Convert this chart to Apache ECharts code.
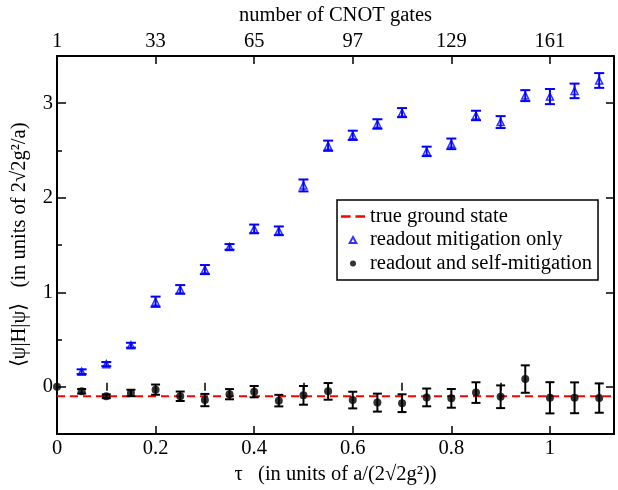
<!DOCTYPE html>
<html>
<head>
<meta charset="utf-8">
<script src="https://cdn.jsdelivr.net/npm/echarts@6/dist/echarts.min.js"></script>
<style>
    html, body { margin: 0; padding: 0; background: #fff; }
    #chart { width: 618px; height: 490px; }
</style>
</head>
<body>
<div id="chart"></div>
<script>
    // readout mitigation only (blue triangles)
    var tauRO = [0.05, 0.1, 0.15, 0.2, 0.25, 0.3, 0.35, 0.4, 0.45, 0.5, 0.55,
        0.6, 0.65, 0.7, 0.75, 0.8, 0.85, 0.9, 0.95, 1.0, 1.05, 1.1]
    var readoutOnly = [0.16, 0.24, 0.44, 0.90, 1.03, 1.24, 1.48, 1.67, 1.65, 2.13, 2.55,
        2.66, 2.78, 2.90, 2.49, 2.57, 2.87, 2.80, 3.08, 3.07, 3.13, 3.24]
    var readoutOnlyErr = [0.025, 0.022, 0.026, 0.054, 0.046, 0.048, 0.03, 0.046, 0.046, 0.063, 0.054,
        0.049, 0.05, 0.048, 0.05, 0.056, 0.05, 0.063, 0.058, 0.08, 0.077, 0.078]

    // readout and self-mitigation (black dots)
    var tauSM = [0, 0.05, 0.1, 0.15, 0.2, 0.25, 0.3, 0.35, 0.4, 0.45, 0.5, 0.55,
        0.6, 0.65, 0.7, 0.75, 0.8, 0.85, 0.9, 0.95, 1.0, 1.05, 1.1]
    var selfMit = [0, -0.047, -0.10, -0.065, -0.03, -0.10, -0.14, -0.078, -0.051, -0.146, -0.09, -0.048,
        -0.14, -0.167, -0.173, -0.112, -0.122, -0.061, -0.105, 0.082, -0.116, -0.116, -0.119]
    var selfMitErr = [0, 0.024, 0.02, 0.034, 0.054, 0.05, 0.065, 0.054, 0.06, 0.061, 0.099, 0.088,
        0.088, 0.095, 0.094, 0.094, 0.099, 0.109, 0.12, 0.145, 0.165, 0.163, 0.155]

    var groundState = -0.1

    // axes
    var xMin = 0, xMax = 1.13
    var yMin = -0.5, yMax = 3.5
    var xMajor = [0, 0.2, 0.4, 0.6, 0.8, 1]
    var xMinor = [0.1, 0.3, 0.5, 0.7, 0.9, 1.1]
    var yMajor = [0, 1, 2, 3]
    var yMinor = [0.5, 1.5, 2.5]

    var font = 'Liberation Serif'
    var fs = 20.5
    var chart = echarts.init(document.getElementById('chart'))

    function errorBars(color, cap, width) {
        return function (params, api) {
            var x = api.value(0), y = api.value(1), e = api.value(2)
            if (!e) return null
            var hi = api.coord([x, y + e])
            var lo = api.coord([x, y - e])
            var st = { stroke: color, lineWidth: width }
            return {
                type: 'group',
                children: [
                    { type: 'line', shape: { x1: hi[0], y1: hi[1], x2: lo[0], y2: lo[1] }, style: st },
                    { type: 'line', shape: { x1: hi[0] - cap, y1: hi[1], x2: hi[0] + cap, y2: hi[1] }, style: st },
                    { type: 'line', shape: { x1: lo[0] - cap, y1: lo[1], x2: lo[0] + cap, y2: lo[1] }, style: st }
                ]
            }
        }
    }

    function majorX(pos, name, nameGap, formatter) {
        return {
            type: 'value', position: pos, min: xMin, max: xMax,
            name: name, nameLocation: 'middle', nameGap: nameGap,
            nameTextStyle: { fontFamily: font, fontSize: fs, color: '#000' },
            axisLine: { onZero: false, lineStyle: { color: '#000', width: 2 } },
            axisTick: { inside: true, length: 8, customValues: xMajor, lineStyle: { color: '#000', width: 1.5 } },
            axisLabel: { customValues: xMajor, margin: 4, fontFamily: font, fontSize: fs, color: '#000', formatter: formatter },
            splitLine: { show: false }
        }
    }

    function minorX(pos) {
        return {
            type: 'value', position: pos, min: xMin, max: xMax,
            axisLine: { show: false },
            axisTick: { inside: true, length: 4, customValues: xMinor, lineStyle: { color: '#000', width: 1.5 } },
            axisLabel: { show: false },
            splitLine: { show: false }
        }
    }

    var option = {
        animation: false,
        backgroundColor: '#fff',
        grid: { left: 57, right: 4, top: 44, bottom: 54, containLabel: false },
        legend: {
            orient: 'vertical',
            left: 337,
            top: 200,
            padding: [6, 6, 6, 4],
            itemGap: 2.5,
            itemWidth: 24,
            itemHeight: 6,
            borderColor: '#000',
            borderWidth: 1.5,
            borderRadius: 0,
            backgroundColor: '#fff',
            textStyle: { fontFamily: font, fontSize: fs, color: '#000', lineHeight: 20 },
            data: [
                { name: 'true ground state', icon: 'path://M0,0h8v2h-8zM12,0h8v2h-8z' },
                { name: 'readout mitigation only', icon: 'path://M5,0L10,9L0,9Z' },
                { name: 'readout and self-mitigation', icon: 'circle' }
            ]
        },
        xAxis: [
            majorX('bottom', 'τ   (in units of a/(2√2g²))', 24),
            majorX('top', 'number of CNOT gates', 26, function (v) { return String(Math.round(1 + 160 * v)) }),
            minorX('bottom'),
            minorX('top')
        ],
        yAxis: [
            {
                type: 'value', position: 'left', min: yMin, max: yMax,
                name: '⟨ψ|H|ψ⟩   (in units of 2√2g²/a)', nameLocation: 'middle', nameGap: 27,
                nameTextStyle: { fontFamily: font, fontSize: fs, color: '#000' },
                axisLine: { onZero: false, lineStyle: { color: '#000', width: 2 } },
                axisTick: { inside: true, length: 9, customValues: yMajor, lineStyle: { color: '#000', width: 1.5 } },
                axisLabel: { customValues: yMajor, margin: 4, fontFamily: font, fontSize: fs, color: '#000' },
                splitLine: { show: false }
            },
            {
                type: 'value', position: 'right', min: yMin, max: yMax,
                axisLine: { onZero: false, lineStyle: { color: '#000', width: 2 } },
                axisTick: { inside: true, length: 8, customValues: yMajor, lineStyle: { color: '#000', width: 1.5 } },
                axisLabel: { show: false },
                splitLine: { show: false }
            },
            {
                type: 'value', position: 'left', min: yMin, max: yMax,
                axisLine: { show: false },
                axisTick: { inside: true, length: 5, customValues: yMinor, lineStyle: { color: '#000', width: 1.5 } },
                axisLabel: { show: false },
                splitLine: { show: false }
            }
        ],
        series: [
            {
                name: 'true ground state',
                type: 'line',
                symbol: 'none',
                color: '#ff0000',
                lineStyle: { color: '#ff0000', width: 2, type: [8, 5] },
                data: [[xMin, groundState], [xMax, groundState]],
                z: 1
            },
            {
                name: 'roErr',
                type: 'custom',
                renderItem: errorBars('#0000ff', 5, 2),
                data: tauRO.map(function (t, i) { return [t, readoutOnly[i], readoutOnlyErr[i]] }),
                z: 2
            },
            {
                name: 'readout mitigation only',
                type: 'scatter',
                symbol: 'triangle',
                symbolSize: 7,
                itemStyle: { color: 'rgba(255,255,255,0)', borderColor: '#0000ff', borderWidth: 1.5 },
                data: tauRO.map(function (t, i) { return [t, readoutOnly[i]] }),
                z: 3
            },
            {
                name: 'smErr',
                type: 'custom',
                renderItem: errorBars('#000', 4.5, 2),
                data: tauSM.map(function (t, i) { return [t, selfMit[i], selfMitErr[i]] }),
                z: 2
            },
            {
                name: 'readout and self-mitigation',
                type: 'scatter',
                symbol: 'circle',
                symbolSize: 8,
                clip: false,
                itemStyle: { color: '#000' },
                data: tauSM.map(function (t, i) { return [t, selfMit[i]] }),
                z: 3
            }
        ]
    }
    chart.setOption(option)
</script>
</body>
</html>
